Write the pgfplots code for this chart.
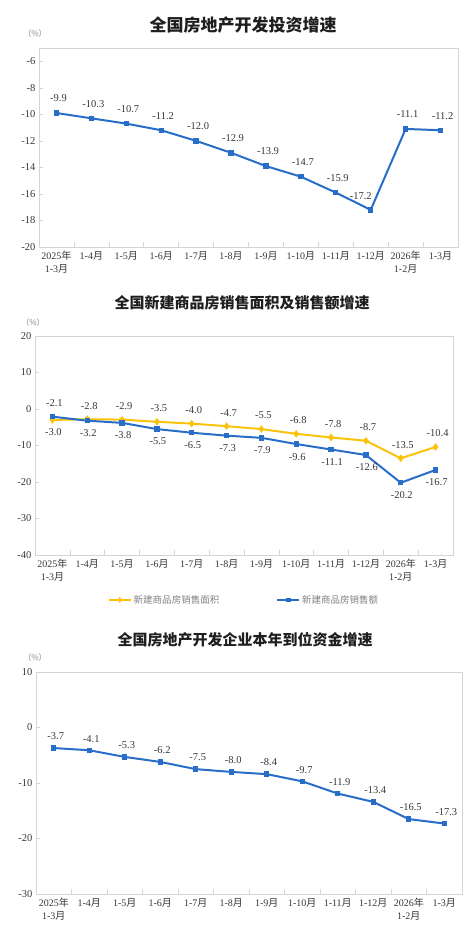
\documentclass[border=0pt]{standalone}
\usepackage{fontspec}
\setmainfont{Liberation Serif}
\newfontfamily\cjk{Noto Sans CJK SC}
\usepackage{pgfplots}
\pgfplotsset{compat=1.18}
\definecolor{myblue}{RGB}{40,110,200}
\definecolor{myyellow}{RGB}{250,195,10}
\definecolor{frame}{RGB}{212,212,212}
\definecolor{txt}{RGB}{55,55,55}
\newcommand{\yue}{{\cjk 月}}
\newcommand{\nian}{{\cjk 年}}
\pgfplotsset{
  mystyle/.style={
    scale only axis, anchor=south west,
    xmin=-0.5, xmax=11.5,
    axis line style={draw=frame},
    xtick={0,...,11},
    xticklabels={{2025\nian\\1-3\yue},{1-4\yue},{1-5\yue},{1-6\yue},{1-7\yue},{1-8\yue},{1-9\yue},{1-10\yue},{1-11\yue},{1-12\yue},{2026\nian\\1-2\yue},{1-3\yue}},
    xticklabel style={align=center, font=\fontsize{10}{12.5}\selectfont, text=txt, yshift=-1pt},
    yticklabel style={font=\fontsize{10.5}{12}\selectfont, text=txt},
    major x tick style={draw=none},
    minor xtick={0.5,1.5,...,10.5},
    minor tick length=5pt,
    major tick length=4pt,
    tick align=inside,
    xtick pos=bottom, ytick pos=left,
    tick style={draw=frame, line width=0.6pt},
    point meta=explicit symbolic,
    clip=false,
  },
  myline/.style={line width=2pt, mark=square*, mark size=1.7pt},
  lababove/.style={nodes near coords, every node near coord/.append style={anchor=south, inner sep=0pt, yshift=#1, xshift=2pt, font=\fontsize{10.5}{12}\selectfont, text=txt}},
  labbelow/.style={nodes near coords, every node near coord/.append style={anchor=north, inner sep=0pt, yshift=-#1, xshift=1pt, font=\fontsize{10.5}{12}\selectfont, text=txt}},
}
\begin{document}
\begin{tikzpicture}
\path[use as bounding box] (0,0) rectangle (473pt,-939pt);
% ---------- Chart 1 ----------
\node[font=\cjk\bfseries\fontsize{17}{17}\selectfont, text={rgb,255:red,30;green,30;blue,30}] at (243pt,-25pt) {全国房地产开发投资增速};
\node[font=\cjk\fontsize{8}{8}\selectfont, text=gray] at (35pt,-33pt) {（\%）};
\begin{axis}[mystyle, at={(39pt,-247pt)}, width=419pt, height=199pt,
  ymin=-20, ymax=-5, ytick={-20,-18,-16,-14,-12,-10,-8,-6},
  yticklabels={-20,-18,-16,-14,-12,-10,-8,-6}]
\addplot[myline, color=myblue, lababove=10pt] coordinates {
(0,-9.9)[-9.9] (1,-10.3)[-10.3] (2,-10.7)[-10.7] (3,-11.2)[-11.2] (4,-12.0)[-12.0] (5,-12.9)[-12.9]
(6,-13.9)[-13.9] (7,-14.7)[-14.7] (8,-15.9)[-15.9] (9,-17.2)[] (10,-11.1)[-11.1] (11,-11.2)[-11.2]};
\addplot[draw=none, mark=none, forget plot, lababove=10pt, every node near coord/.append style={xshift=-12pt}] coordinates {(9,-17.2)[-17.2]};
\end{axis}
% ---------- Chart 2 ----------
\node[font=\cjk\bfseries\fontsize{15}{15}\selectfont, text={rgb,255:red,30;green,30;blue,30}] at (242pt,-303pt) {全国新建商品房销售面积及销售额增速};
\node[font=\cjk\fontsize{8}{8}\selectfont, text=gray] at (33pt,-322pt) {（\%）};
\begin{axis}[mystyle, at={(35pt,-555pt)}, width=418pt, height=219pt,
  ymin=-40, ymax=20, ytick={-40,-30,-20,-10,0,10,20},
  yticklabels={-40,-30,-20,-10,0,10,20},
  legend style={at={(0.5,-0.205)}, anchor=center, draw=none, fill=none, legend columns=2,
    font=\cjk\fontsize{9.5}{10}\selectfont, text={rgb,255:red,130;green,130;blue,130},
    /tikz/every even column/.append style={column sep=55pt}},
  legend image code/.code={\draw[mark repeat=2,mark phase=2,#1,line width=1.8pt,mark size=1.5pt] plot coordinates {(0pt,0pt) (11pt,0pt) (22pt,0pt)};}]
\addplot[myline, color=myyellow, mark=diamond*, mark size=2.2pt, lababove=9pt] coordinates {
(1,-2.8)[-2.8] (2,-2.9)[-2.9] (3,-3.5)[-3.5] (4,-4.0)[-4.0] (5,-4.7)[-4.7]
(6,-5.5)[-5.5] (7,-6.8)[-6.8] (8,-7.8)[-7.8] (9,-8.7)[-8.7] (10,-13.5)[-13.5] (11,-10.4)[-10.4]};
\addlegendentry{新建商品房销售面积}
\addplot[myline, color=myblue, labbelow=8pt] coordinates {
(1,-3.2)[-3.2] (2,-3.8)[-3.8] (3,-5.5)[-5.5] (4,-6.5)[-6.5] (5,-7.3)[-7.3]
(6,-7.9)[-7.9] (7,-9.6)[-9.6] (8,-11.1)[-11.1] (9,-12.6)[-12.6] (10,-20.2)[-20.2] (11,-16.7)[-16.7]};
\addlegendentry{新建商品房销售额}
\addplot[myline, color=myyellow, mark=diamond*, mark size=2.2pt, labbelow=8pt, forget plot] coordinates {(0,-3.0)[-3.0] (1,-2.8)[]};
\addplot[myline, color=myblue, lababove=9pt, forget plot] coordinates {(0,-2.1)[-2.1] (1,-3.2)[]};
\end{axis}
% ---------- Chart 3 ----------
\node[font=\cjk\bfseries\fontsize{15}{15}\selectfont, text={rgb,255:red,30;green,30;blue,30}] at (245pt,-640pt) {全国房地产开发企业本年到位资金增速};
\node[font=\cjk\fontsize{8}{8}\selectfont, text=gray] at (35pt,-657pt) {（\%）};
\begin{axis}[mystyle, at={(36pt,-894pt)}, width=426pt, height=222pt,
  ymin=-30, ymax=10, ytick={-30,-20,-10,0,10},
  yticklabels={-30,-20,-10,0,10}]
\addplot[myline, color=myblue, lababove=7pt] coordinates {
(0,-3.7)[-3.7] (1,-4.1)[-4.1] (2,-5.3)[-5.3] (3,-6.2)[-6.2] (4,-7.5)[-7.5] (5,-8.0)[-8.0]
(6,-8.4)[-8.4] (7,-9.7)[-9.7] (8,-11.9)[-11.9] (9,-13.4)[-13.4] (10,-16.5)[-16.5] (11,-17.3)[-17.3]};
\end{axis}
\end{tikzpicture}
\end{document}
